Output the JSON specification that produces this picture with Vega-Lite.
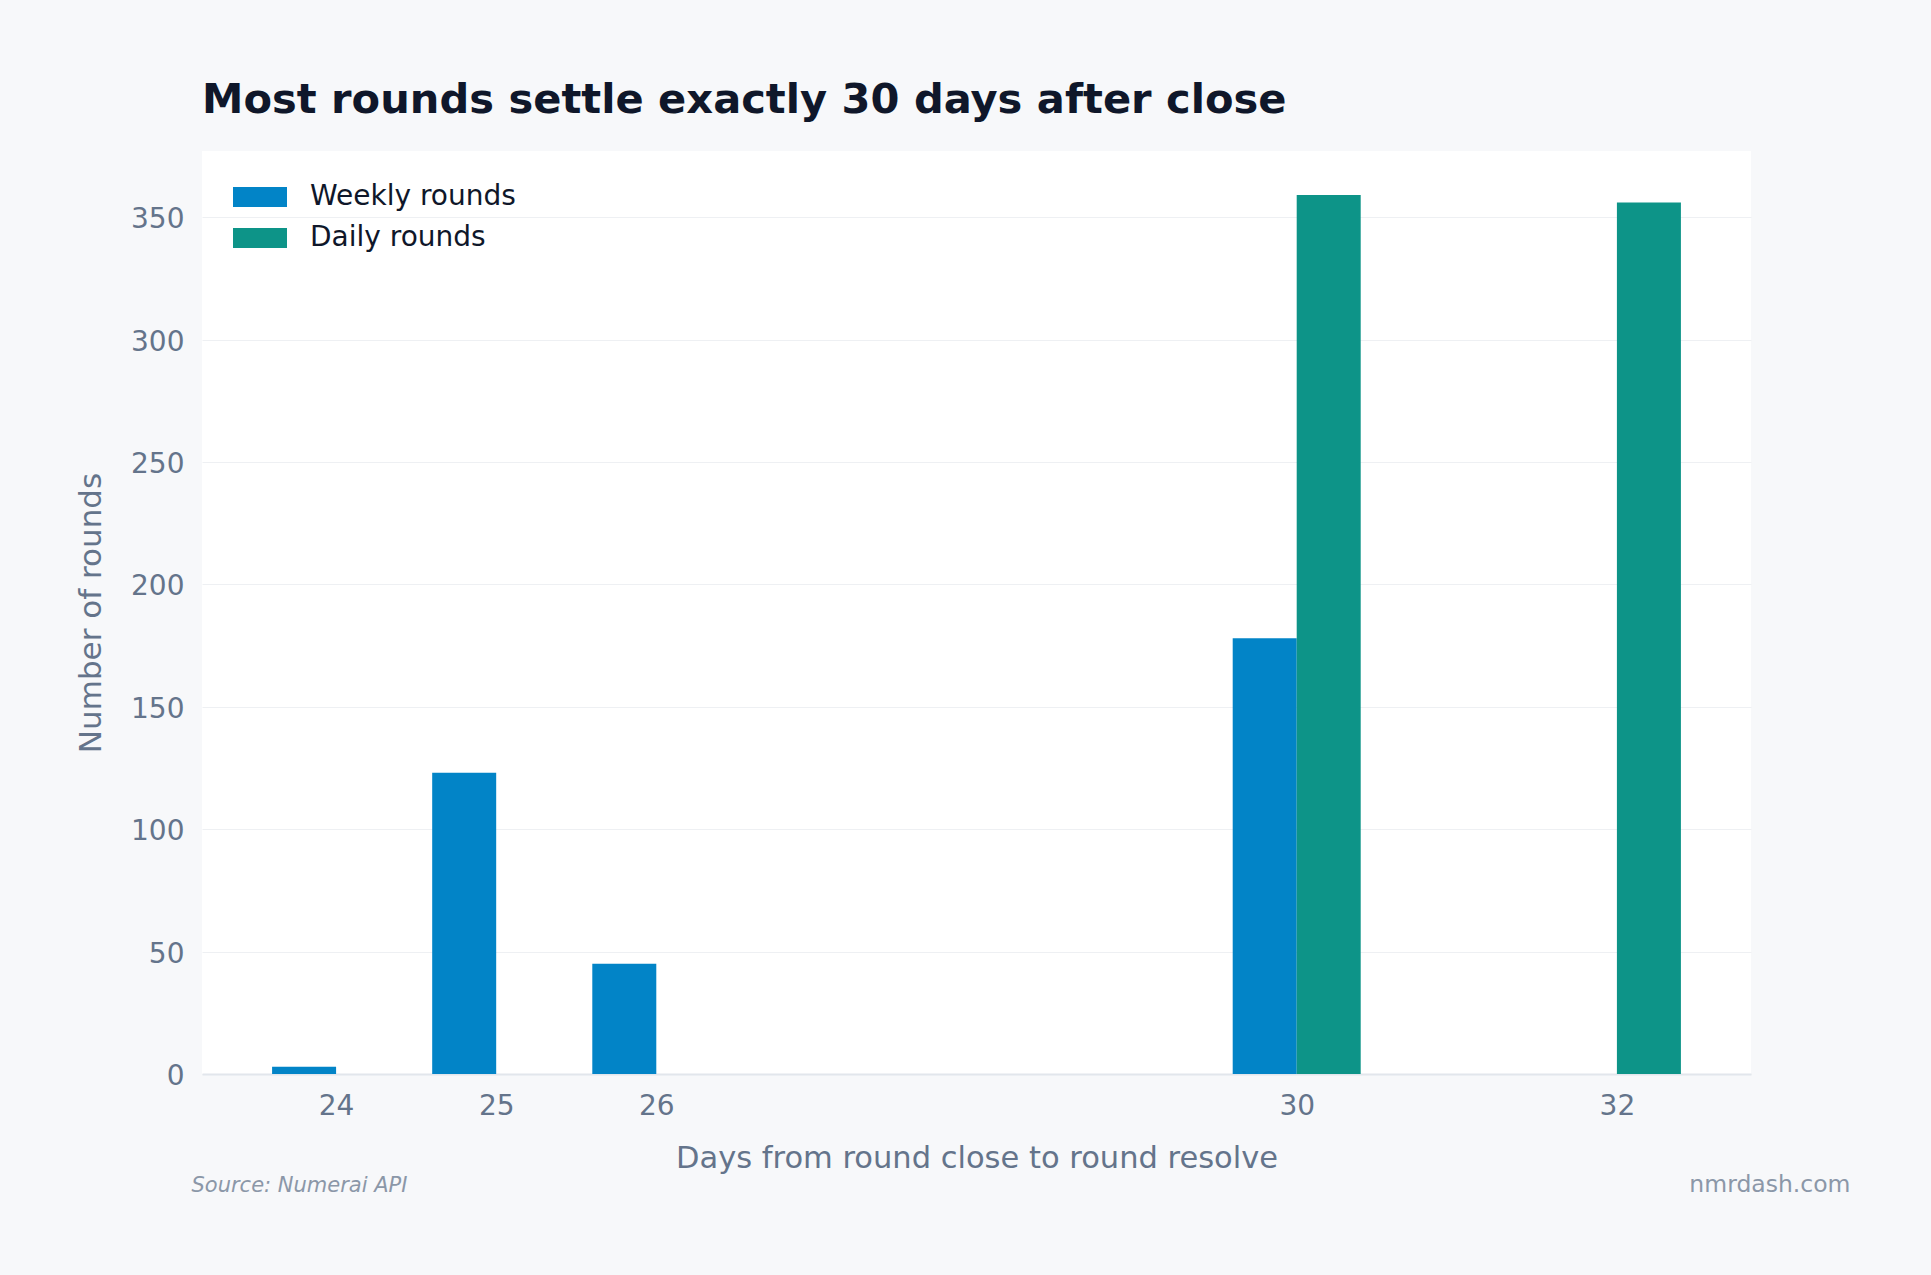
{
  "$schema": "https://vega.github.io/schema/vega-lite/v6.json",
  "width": 1549,
  "height": 923,
  "autosize": {"type": "none"},
  "padding": {"left": 202, "top": 151, "right": 180, "bottom": 201},
  "background": "#f7f8fa",
  "title": {
    "text": "Most rounds settle exactly 30 days after close",
    "anchor": "start",
    "frame": "group",
    "fontSize": 41.6,
    "fontWeight": "bold",
    "color": "#0f172a",
    "font": "DejaVu Sans",
    "baseline": "alphabetic",
    "offset": 36,
    "dy": 39.5
  },
  "config": {
    "view": {"fill": "#ffffff", "stroke": null},
    "font": "DejaVu Sans"
  },
  "data": {
    "values": [
      {"day": 24, "series": "Weekly rounds", "count": 3},
      {"day": 25, "series": "Weekly rounds", "count": 123},
      {"day": 26, "series": "Weekly rounds", "count": 45},
      {"day": 30, "series": "Weekly rounds", "count": 178},
      {"day": 30, "series": "Daily rounds", "count": 359},
      {"day": 32, "series": "Daily rounds", "count": 356}
    ]
  },
  "layer": [
    {
      "transform": [{"filter": "datum.series === 'Weekly rounds'"}],
      "mark": {"type": "bar", "width": 64, "xOffset": -32},
      "encoding": {
        "x": {
          "field": "day",
          "type": "quantitative",
          "scale": {"domain": [23.1625, 32.8375], "nice": false, "zero": false, "padding": 0},
          "axis": {
            "orient": "bottom",
            "values": [24, 25, 26, 30, 32],
            "format": "d",
            "title": "Days from round close to round resolve",
            "titleFontSize": 30.5,
            "titleFontWeight": "normal",
            "titleColor": "#64748b",
            "titlePadding": 23,
            "labelFontSize": 28,
            "labelColor": "#64748b",
            "labelPadding": 18,
            "ticks": false,
            "domain": true,
            "domainColor": "#e2e6ec",
            "domainWidth": 2,
            "grid": false
          }
        },
        "y": {
          "field": "count",
          "type": "quantitative",
          "scale": {"domain": [0, 377], "nice": false, "padding": 0},
          "axis": {
            "orient": "left",
            "values": [0, 50, 100, 150, 200, 250, 300, 350],
            "title": "Number of rounds",
            "titleFontSize": 31,
            "titleFontWeight": "normal",
            "titleColor": "#64748b",
            "titlePadding": 23,
            "labelFontSize": 28,
            "labelColor": "#64748b",
            "labelPadding": 18,
            "labelOffset": 2.5,
            "ticks": false,
            "domain": false,
            "grid": true,
            "gridColor": "#eef0f3",
            "gridWidth": 1
          }
        },
        "color": {
          "field": "series",
          "type": "nominal",
          "scale": {"domain": ["Weekly rounds", "Daily rounds"], "range": ["#0284c7", "#0d9488"]},
          "legend": {
            "orient": "none",
            "legendX": 44,
            "legendY": 32,
            "title": null,
            "padding": 0,
            "symbolType": "M-2.7,-1L2.7,-1L2.7,1L-2.7,1Z",
            "symbolSize": 400,
            "symbolStrokeWidth": 0,
            "symbolOpacity": 1,
            "labelFontSize": 28,
            "labelColor": "#0f172a",
            "labelOffset": 36,
            "labelLimit": 500,
            "rowPadding": 13
          }
        }
      }
    },
    {
      "transform": [{"filter": "datum.series === 'Daily rounds'"}],
      "mark": {"type": "bar", "width": 64, "xOffset": 32},
      "encoding": {
        "x": {
          "field": "day",
          "type": "quantitative",
          "scale": {"domain": [23.1625, 32.8375], "nice": false, "zero": false, "padding": 0},
          "axis": {
            "orient": "top",
            "labels": false,
            "ticks": false,
            "domain": false,
            "grid": false,
            "title": "Source: Numerai API",
            "titleX": -11,
            "titleY": 1040,
            "titleAlign": "left",
            "titleAngle": 0,
            "titleBaseline": "alphabetic",
            "titleFontSize": 21,
            "titleFontStyle": "italic",
            "titleFontWeight": "normal",
            "titleColor": "#8b97a8"
          }
        },
        "y": {
          "field": "count",
          "type": "quantitative",
          "scale": {"domain": [0, 377], "nice": false, "padding": 0},
          "axis": {
            "orient": "right",
            "labels": false,
            "ticks": false,
            "domain": false,
            "grid": false,
            "title": "nmrdash.com",
            "titleX": 99,
            "titleY": 1040,
            "titleAlign": "right",
            "titleAngle": 0,
            "titleBaseline": "alphabetic",
            "titleFontSize": 23.5,
            "titleFontWeight": "normal",
            "titleColor": "#8b97a8"
          }
        },
        "color": {
          "field": "series",
          "type": "nominal",
          "scale": {"domain": ["Weekly rounds", "Daily rounds"], "range": ["#0284c7", "#0d9488"]}
        }
      }
    }
  ],
  "resolve": {"scale": {"x": "independent", "y": "independent"}}
}
